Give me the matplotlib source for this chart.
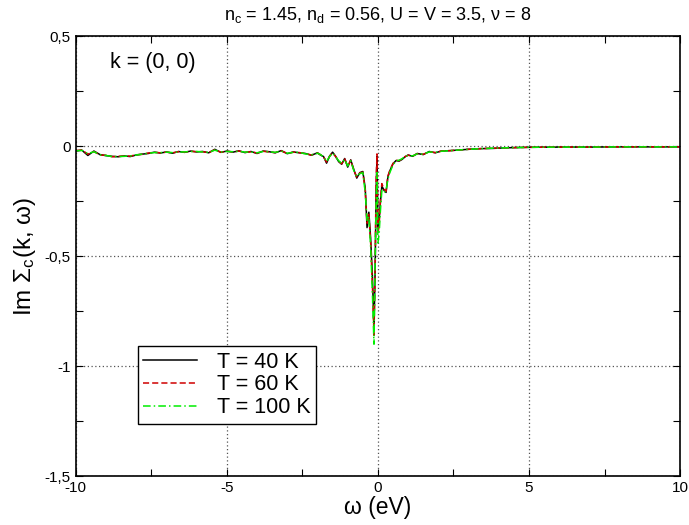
import matplotlib
matplotlib.use("Agg")
import matplotlib.pyplot as plt
from matplotlib.ticker import FixedLocator, MultipleLocator

plt.rcParams['font.family'] = ['Liberation Sans', 'DejaVu Sans']
plt.rcParams['mathtext.fontset'] = 'custom'
plt.rcParams['mathtext.rm'] = 'Liberation Sans'
plt.rcParams['mathtext.it'] = 'Liberation Sans'

# Frequency grid (eV)
omega = [-10.0, -9.8, -9.6, -9.4, -9.2, -9.0, -8.8, -8.6, -8.4, -8.2,
         -8.0, -7.8, -7.6, -7.4, -7.2, -7.0, -6.8, -6.6, -6.4, -6.2,
         -6.0, -5.8, -5.6, -5.4, -5.2, -5.0, -4.8, -4.6, -4.4, -4.2,
         -4.0, -3.8, -3.6, -3.4, -3.2, -3.0, -2.8, -2.6, -2.4, -2.2,
         -2.0, -1.9, -1.8, -1.7, -1.6, -1.5, -1.4, -1.3, -1.2, -1.1,
         -1.0, -0.9, -0.8, -0.7, -0.6, -0.5, -0.42, -0.36, -0.3, -0.24,
         -0.18, -0.13, -0.09, -0.06, -0.03, 0.0, 0.04, 0.08, 0.13, 0.2,
         0.27, 0.33, 0.4, 0.5, 0.6, 0.7, 0.8, 0.9, 1.0, 1.15,
         1.3, 1.5, 1.7, 1.9, 2.1, 2.4, 2.7, 3.0, 3.4, 3.8,
         4.3, 5.0, 6.0, 7.0, 8.0, 9.0, 10.0]

# Im Sigma_c(k=(0,0), omega) at three temperatures
sigma_40K = [-0.022, -0.018, -0.042, -0.022, -0.038, -0.043, -0.046, -0.048, -0.044, -0.047,
             -0.040, -0.036, -0.033, -0.027, -0.031, -0.026, -0.032, -0.024, -0.028, -0.022,
             -0.026, -0.024, -0.030, -0.014, -0.028, -0.022, -0.027, -0.021, -0.029, -0.024,
             -0.033, -0.022, -0.025, -0.030, -0.020, -0.034, -0.026, -0.030, -0.033, -0.041,
             -0.030, -0.040, -0.047, -0.077, -0.045, -0.027, -0.046, -0.070, -0.082, -0.056,
             -0.095, -0.062, -0.105, -0.145, -0.120, -0.115, -0.190, -0.370, -0.300, -0.420,
             -0.600, -0.830, -0.550, -0.200, -0.045, -0.380, -0.340, -0.260, -0.180, -0.200,
             -0.210, -0.140, -0.110, -0.080, -0.065, -0.068, -0.060, -0.048, -0.040, -0.046,
             -0.033, -0.038, -0.024, -0.030, -0.022, -0.020, -0.017, -0.014, -0.011, -0.010,
             -0.007, -0.005, -0.004, -0.004, -0.003, -0.003, -0.003]

sigma_60K = [-0.020, -0.017, -0.036, -0.024, -0.040, -0.041, -0.048, -0.046, -0.045, -0.045,
             -0.039, -0.037, -0.031, -0.028, -0.030, -0.027, -0.030, -0.025, -0.027, -0.023,
             -0.025, -0.025, -0.029, -0.016, -0.027, -0.023, -0.026, -0.022, -0.028, -0.025,
             -0.031, -0.023, -0.026, -0.029, -0.021, -0.033, -0.027, -0.029, -0.034, -0.040,
             -0.031, -0.039, -0.048, -0.072, -0.046, -0.029, -0.047, -0.068, -0.080, -0.058,
             -0.092, -0.064, -0.108, -0.140, -0.122, -0.118, -0.200, -0.350, -0.310, -0.440,
             -0.640, -0.860, -0.520, -0.160, -0.035, -0.400, -0.360, -0.250, -0.170, -0.195,
             -0.205, -0.135, -0.108, -0.078, -0.064, -0.066, -0.058, -0.047, -0.041, -0.045,
             -0.034, -0.037, -0.025, -0.029, -0.022, -0.020, -0.017, -0.014, -0.011, -0.009,
             -0.007, -0.005, -0.004, -0.004, -0.003, -0.003, -0.003]

sigma_100K = [-0.021, -0.019, -0.034, -0.025, -0.039, -0.042, -0.047, -0.047, -0.046, -0.044,
              -0.040, -0.036, -0.032, -0.029, -0.029, -0.027, -0.029, -0.026, -0.026, -0.024,
              -0.024, -0.026, -0.028, -0.018, -0.026, -0.024, -0.025, -0.023, -0.027, -0.026,
              -0.030, -0.024, -0.025, -0.028, -0.022, -0.032, -0.028, -0.028, -0.035, -0.039,
              -0.032, -0.038, -0.049, -0.070, -0.047, -0.031, -0.048, -0.066, -0.078, -0.060,
              -0.090, -0.066, -0.110, -0.138, -0.125, -0.120, -0.210, -0.340, -0.320, -0.460,
              -0.680, -0.900, -0.500, -0.260, -0.120, -0.440, -0.400, -0.300, -0.200, -0.210,
              -0.200, -0.150, -0.118, -0.085, -0.066, -0.064, -0.057, -0.046, -0.042, -0.044,
              -0.035, -0.036, -0.026, -0.028, -0.023, -0.020, -0.017, -0.014, -0.011, -0.009,
              -0.007, -0.005, -0.004, -0.004, -0.003, -0.003, -0.003]

series_labels = ['T = 40 K', 'T = 60 K', 'T = 100 K']
x_ticks = [-10, -5, 0, 5, 10]
x_tick_labels = ['-10', '-5', '0', '5', '10']
y_ticks = [0.5, 0, -0.5, -1, -1.5]
y_tick_labels = ['0,5', '0', '-0,5', '-1', '-1,5']

fig = plt.figure(figsize=(6.89, 5.25), dpi=100)
ax = fig.add_axes([0.110, 0.093, 0.877, 0.838])

ax.plot(omega, sigma_40K, color='black', lw=1.1, ls='-', label=series_labels[0])
ax.plot(omega, sigma_60K, color='#d00000', lw=1.1, ls=(0, (4, 2)), label=series_labels[1])
ax.plot(omega, sigma_100K, color='#00ee00', lw=1.1, ls=(0, (5, 2, 1, 2)), label=series_labels[2])

ax.set_xlim(-10, 10)
ax.set_ylim(-1.5, 0.5)
ax.xaxis.set_major_locator(FixedLocator(x_ticks))
ax.set_xticklabels(x_tick_labels)
ax.yaxis.set_major_locator(FixedLocator(y_ticks))
ax.set_yticklabels(y_tick_labels)
ax.xaxis.set_minor_locator(MultipleLocator(2.5))
ax.yaxis.set_minor_locator(MultipleLocator(0.25))
ax.tick_params(which='both', direction='in', top=True, right=True,
               labelsize=11, width=0.8, length=5)
for s in ax.spines.values():
    s.set_linewidth(1.2)

ax.grid(True, which='major', color='#555555', ls=(0, (1, 2)), lw=0.9)

ax.set_xlabel('ω (eV)', fontsize=16.5, labelpad=1)
ax.set_ylabel('Im Σ$_{\\mathrm{c}}$(k, ω)', fontsize=17.5, labelpad=5)
ax.set_title('n$_{\\mathrm{c}}$ = 1.45, n$_{\\mathrm{d}}$ = 0.56, U = V = 3.5, ν = 8',
             fontsize=13, pad=12)
ax.text(0.056, 0.965, 'k = (0, 0)', transform=ax.transAxes, fontsize=15.5,
        ha='left', va='top')

leg = ax.legend(loc='upper left', bbox_to_anchor=(0.103, 0.295), fontsize=15.5,
                fancybox=False, framealpha=1, edgecolor='black',
                handlelength=2.5, borderpad=0.25, labelspacing=0.08,
                handletextpad=0.9, borderaxespad=0)
leg.get_frame().set_linewidth(1.0)

fig.savefig('out.png', dpi=100)
